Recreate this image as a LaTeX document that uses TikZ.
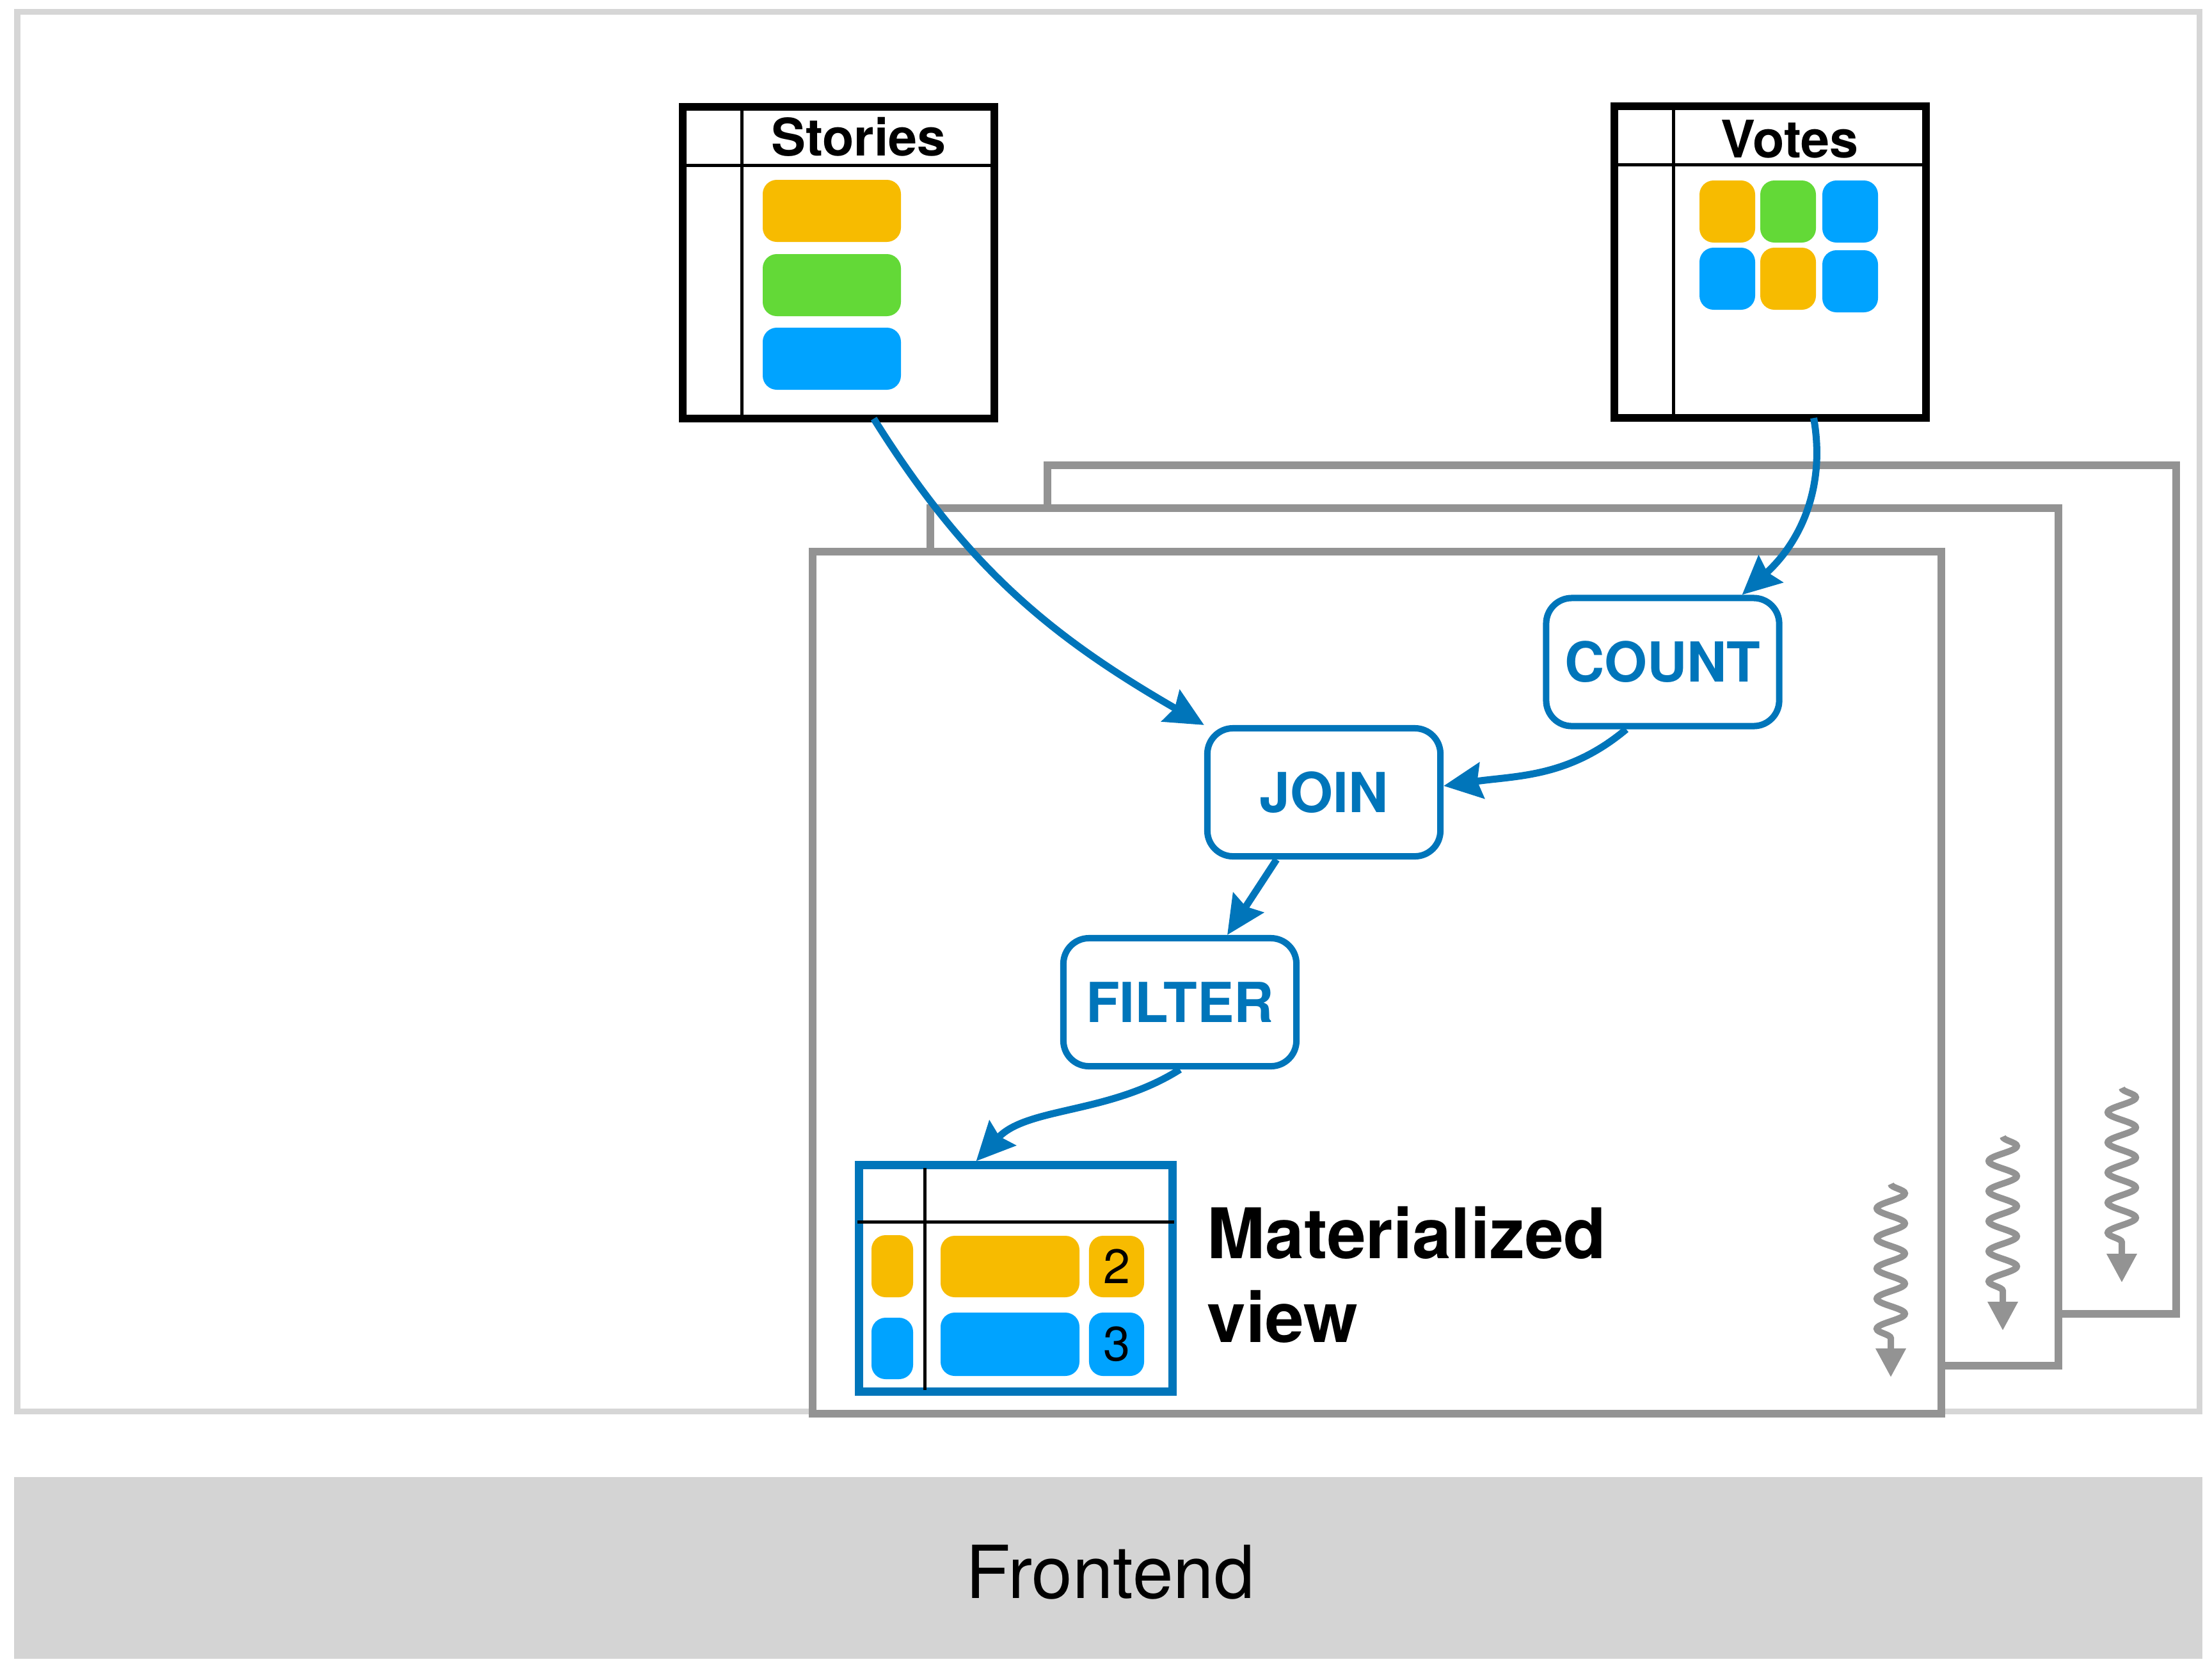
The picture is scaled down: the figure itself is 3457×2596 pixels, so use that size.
\documentclass[tikz,border=0pt]{standalone}
\usepackage{fontspec}
\setmainfont{TeX Gyre Heros}
\usetikzlibrary{positioning,calc,arrows.meta,decorations.pathmorphing}

\definecolor{opblue}{HTML}{0075BA}
\definecolor{rowyellow}{HTML}{F7BB00}
\definecolor{rowgreen}{HTML}{63D937}
\definecolor{rowblue}{HTML}{00A3FF}
\definecolor{framegray}{HTML}{939393}
\definecolor{edgegray}{HTML}{D6D6D6}
\definecolor{bandgray}{HTML}{D4D4D4}

\tikzset{
    tablebox/.style={draw, line width=0.12cm, minimum width=4.87cm, minimum height=4.87cm, inner sep=0pt, outer sep=0pt},
    tabletitle/.style={anchor=base, font=\fontsize{23}{27}\selectfont\bfseries},
    opbox/.style={draw=opblue, fill=white, line width=0.1cm, rounded corners=0.4cm, minimum width=3.64cm, minimum height=2cm, text=opblue, font=\fontsize{24.5}{29}\selectfont\bfseries},
    flow/.style={draw=opblue, line width=0.11cm, -{Stealth[length=0.6cm, width=0.56cm, inset=0.07cm]}},
    shard/.style={draw=framegray, fill=white, line width=0.12cm},
    wavy/.style={draw=framegray, line width=0.1cm, -{Triangle[length=0.45cm, width=0.45cm]}, decorate, decoration={snake, amplitude=0.22cm, segment length=0.47cm, post length=0.5cm}},
    chip/.style={rounded corners=0.22cm},
    countchip/.style={chip, inner sep=0pt, minimum width=0.86cm, font=\fontsize{21.5}{25}\selectfont},
    cellline/.style={line width=0.05cm}
}

\begin{document}
\begin{tikzpicture}[x=0.01cm, y=-0.01cm]
        \useasboundingbox ( 0, 0 ) rectangle ( 3457, 2596 );

        % рамка и фронтенд
        \draw [edgegray, line width=0.09cm] ( 27, 18 ) rectangle ( 3437, 2205 );
        \fill [bandgray] ( 22, 2308 ) rectangle ( 3442, 2592 );
        \node [font=\fontsize{32.5}{38}\selectfont] (frontend) at ( 1735, 2457 ) {Frontend};

        % шарды
        \draw [shard] ( 1637, 727 ) rectangle ( 3401, 2053 );
        \draw [shard] ( 1454, 794 ) rectangle ( 3217, 2134 );
        \draw [shard] ( 1270, 862 ) rectangle ( 3034, 2209 );

        % таблица Stories
        \node [tablebox] (stories) at ( 1310.5, 410.5 ) {};
        \draw [cellline] ( 1159, 167 ) -- ( 1159, 654 );
        \draw [cellline] ( 1067, 258 ) -- ( 1554, 258 );
        \node [tabletitle] (storiestitle) at ( 1342, 243 ) {Stories};
        \foreach \c/\y in {rowyellow/281, rowgreen/397, rowblue/512}
            \fill [\c, chip] ( 1192, \y ) rectangle ( 1408, \y+97 );

        % таблица Votes
        \node [tablebox] (votes) at ( 2766.5, 409.5 ) {};
        \draw [cellline] ( 2615, 166 ) -- ( 2615, 653 );
        \draw [cellline] ( 2523, 257 ) -- ( 3010, 257 );
        \node [tabletitle] (votestitle) at ( 2797, 246 ) {Votes};
        \foreach \c/\x/\y in {rowyellow/2656/282, rowgreen/2751/282, rowblue/2848/282,
                              rowblue/2656/387, rowyellow/2751/387, rowblue/2848/391}
            \fill [\c, chip] ( \x, \y ) rectangle ( \x+87, \y+97 );

        % операторы
        \node [opbox] (count) at ( 2598.5, 1034.5 ) {COUNT};
        \node [opbox] (join) at ( 2069, 1238 ) {JOIN};
        \node [opbox] (filter) at ( 1844, 1566 ) {FILTER};

        % материализованное представление
        \node [draw=opblue, line width=0.13cm, minimum width=4.89cm, minimum height=3.53cm, inner sep=0pt] (matview) at ( 1587.5, 1997.5 ) {};
        \draw [cellline] ( 1445, 1825 ) -- ( 1445, 2172 );
        \draw [cellline] ( 1340, 1909 ) -- ( 1835, 1909 );
        \fill [rowyellow, chip] ( 1362, 1930 ) rectangle ( 1427, 2027 );
        \fill [rowyellow, chip] ( 1470, 1931 ) rectangle ( 1687, 2027 );
        \node [countchip, fill=rowyellow, minimum height=0.96cm] (two) at ( 1745, 1979 ) {2};
        \fill [rowblue, chip] ( 1362, 2059 ) rectangle ( 1427, 2155 );
        \fill [rowblue, chip] ( 1470, 2051 ) rectangle ( 1687, 2150 );
        \node [countchip, fill=rowblue, minimum height=0.99cm] (three) at ( 1745, 2100.5 ) {3};
        \node [anchor=base west, align=left, inner sep=0pt, font=\fontsize{31}{37}\selectfont\bfseries] (mvlabel) at ( 1886, 2097 ) {Materialized\\view};

        % потоки
        \draw [flow] ($(stories.south)+(55,0)$) to [out=-58, in=150] (join.north west);
        \draw [flow] ($(votes.south)+(68,0)$) to [out=-80, in=42] ($(count.north)+(124,0)$);
        \draw [flow] ($(count.south)+(-57,0)$) to [out=-140, in=8] ($(join.east)+(0,-10)$);
        \draw [flow] ($(join.south)+(-74,0)$) -- ($(filter.north)+(74,0)$);
        \draw [flow] (filter.south) .. controls +(-110,70) and +(80,-85) .. ($(matview.north)+(-62,0)$);

        % волны
        \foreach \i/\x/\ya/\yb in {1/2955/1850/2152, 2/3130/1776/2079, 3/3316/1700/2004} {
            \coordinate (wave\i top) at ( \x, \ya );
            \coordinate (wave\i tip) at ( \x, \yb );
            \draw [wavy] (wave\i top) -- (wave\i tip);
        }
\end{tikzpicture}
\end{document}
